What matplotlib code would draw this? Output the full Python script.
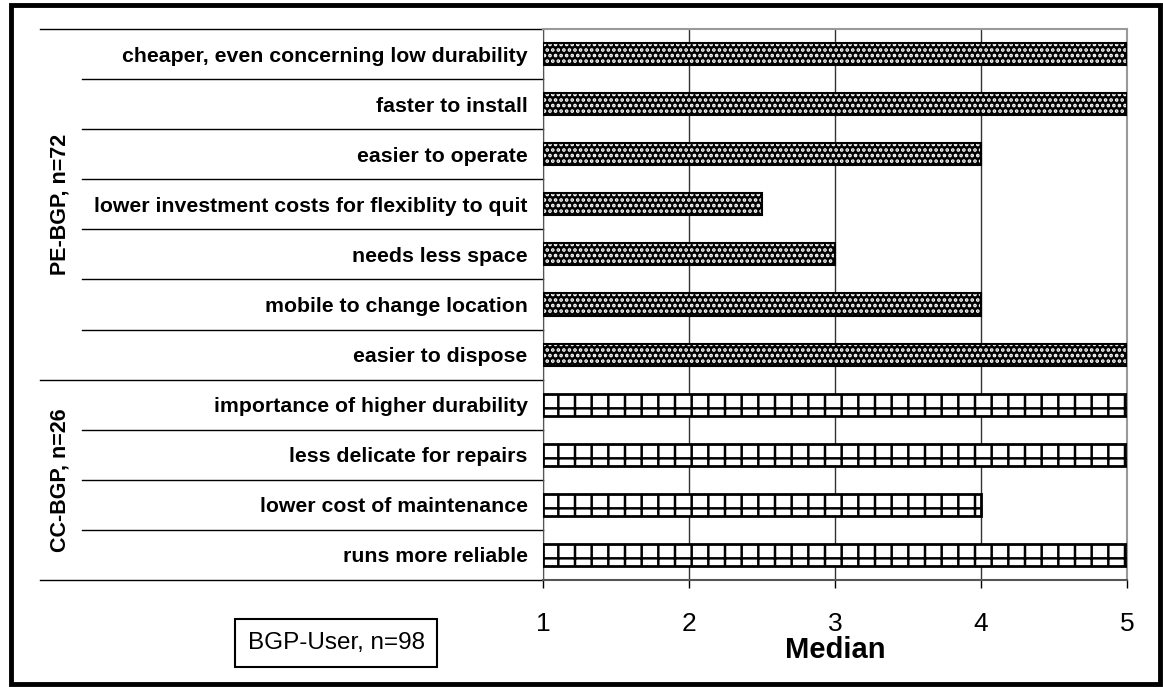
import matplotlib
matplotlib.use("Agg")
import matplotlib.pyplot as plt
import matplotlib.transforms as mtransforms
from matplotlib.patches import Rectangle

plt.rcParams['font.family'] = ['Liberation Sans', 'DejaVu Sans']
plt.rcParams['hatch.linewidth'] = 1.8

labels = ['cheaper, even concerning low durability',
          'faster to install',
          'easier to operate',
          'lower investment costs for flexiblity to quit',
          'needs less space',
          'mobile to change location',
          'easier to dispose',
          'importance of higher durability',
          'less delicate for repairs',
          'lower cost of maintenance',
          'runs more reliable']
medians = [5, 5, 4, 2.5, 3, 4, 5, 5, 5, 4, 5]
groups = ['PE-BGP, n=72', 'CC-BGP, n=26']
group_sizes = [7, 4]
xticks = [1, 2, 3, 4, 5]

W, H = 1163, 687
fig = plt.figure(figsize=(W / 100, H / 100), dpi=100)
ax = fig.add_axes([543 / W, 1 - 580 / H, (1127 - 543) / W, (580 - 29) / H])

y = list(range(len(labels)))
n_pe = group_sizes[0]
# PE-BGP bars: black with white dots
ax.barh(y[:n_pe], [m - 1 for m in medians[:n_pe]], left=1, height=0.44,
        color='black', edgecolor='white', hatch='...', linewidth=0, zorder=3)
ax.barh(y[:n_pe], [m - 1 for m in medians[:n_pe]], left=1, height=0.44,
        fill=False, edgecolor='black', linewidth=1.5, zorder=4)
# CC-BGP bars: brick-like pattern
ax.barh(y[n_pe:], [m - 1 for m in medians[n_pe:]], left=1, height=0.44,
        color='white', edgecolor='black', hatch='+', linewidth=0, zorder=3)
ax.barh(y[n_pe:], [m - 1 for m in medians[n_pe:]], left=1, height=0.44,
        fill=False, edgecolor='black', linewidth=2, zorder=4)

ax.set_xlim(1, 5)
ax.set_ylim(len(labels) - 0.5, -0.5)
ax.set_xticks(xticks)
ax.set_xticklabels([str(t) for t in xticks], fontsize=19)
ax.tick_params(axis='x', direction='out', length=6, width=1, pad=17, colors='black')
ax.set_yticks(y)
ax.set_yticklabels(labels, fontsize=15.3, fontweight='bold')
ax.tick_params(axis='y', length=0, pad=11)
ax.xaxis.grid(True, color='#333333', linewidth=1, zorder=0)
ax.set_xlabel('Median', fontsize=21, fontweight='bold', labelpad=0)

for side in ['top', 'right']:
    ax.spines[side].set_color('#999999')
    ax.spines[side].set_linewidth(1.5)
ax.spines['left'].set_color('#555555')
ax.spines['bottom'].set_color('#555555')
ax.spines['bottom'].set_linewidth(1.5)

# category separators extending into the label area
trans = mtransforms.blended_transform_factory(fig.transFigure, ax.transData)
bounds = [0]
for g in group_sizes:
    bounds.append(bounds[-1] + g)
for k in range(len(labels) + 1):
    x0 = 40 / W if k in bounds else 82 / W
    ax.plot([x0, 543 / W], [k - 0.5, k - 0.5], color='black', lw=1,
            transform=trans, clip_on=False)

# group labels
for g, start, size in zip(groups, bounds[:-1], group_sizes):
    ax.text(60 / W, start + size / 2 - 0.5, g, transform=trans, rotation=90,
            ha='center', va='center', fontsize=15.5, fontweight='bold')

fig.text(336 / W, 1 - 643 / H, 'BGP-User, n=98', ha='center', va='center',
         fontsize=17.5,
         bbox=dict(boxstyle='square,pad=0.52', facecolor='white',
                   edgecolor='black', linewidth=1.5))

fig.add_artist(Rectangle((11 / W, 3 / H), 1149 / W, 679 / H,
                         transform=fig.transFigure, fill=False,
                         edgecolor='black', linewidth=3.5))

fig.savefig('out.png', dpi=100)
